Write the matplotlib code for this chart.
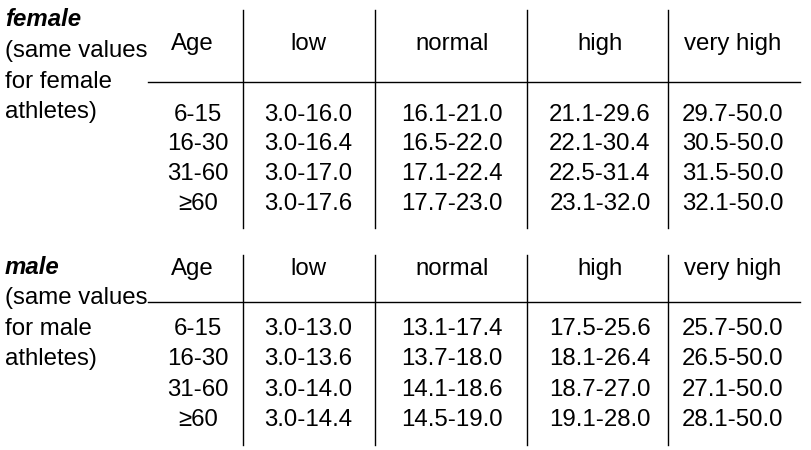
import matplotlib
matplotlib.use("Agg")
import matplotlib.pyplot as plt

headers = ["Age", "low", "normal", "high", "very high"]
ages = ["6-15", "16-30", "31-60", "≥60"]
female_low = ["3.0-16.0", "3.0-16.4", "3.0-17.0", "3.0-17.6"]
female_normal = ["16.1-21.0", "16.5-22.0", "17.1-22.4", "17.7-23.0"]
female_high = ["21.1-29.6", "22.1-30.4", "22.5-31.4", "23.1-32.0"]
female_vhigh = ["29.7-50.0", "30.5-50.0", "31.5-50.0", "32.1-50.0"]
male_low = ["3.0-13.0", "3.0-13.6", "3.0-14.0", "3.0-14.4"]
male_normal = ["13.1-17.4", "13.7-18.0", "14.1-18.6", "14.5-19.0"]
male_high = ["17.5-25.6", "18.1-26.4", "18.7-27.0", "19.1-28.0"]
male_vhigh = ["25.7-50.0", "26.5-50.0", "27.1-50.0", "28.1-50.0"]

plt.rcParams['font.family'] = ['Liberation Sans', 'DejaVu Sans']
fig = plt.figure(figsize=(8.12, 4.5), dpi=100)
ax = fig.add_axes([0, 0, 1, 1])
ax.set_xlim(0, 812); ax.set_ylim(450, 0); ax.axis('off')

colx = [198, 308, 452, 600, 733]
vlines = [243, 375, 527, 668]
fs = 17.3

def section(top, bottom, hy, liney, rowys, label, labely, side, cols):
    for x in vlines:
        ax.plot([x, x], [top, bottom], color='black', lw=1)
    ax.plot([148, 800], [liney, liney], color='black', lw=1)
    for x, h in zip(colx, headers):
        ax.text(x - (6 if h == "Age" else 0), hy, h, ha='center', va='center', fontsize=fs)
    ax.text(5, labely, label, fontsize=fs, fontweight='bold', fontstyle='italic', va='center')
    for y, s in side:
        ax.text(5, y, s, fontsize=fs, va='center')
    for i, y in enumerate(rowys):
        ax.text(colx[0], y, ages[i], ha='center', va='center', fontsize=fs)
        for x, c in zip(colx[1:], cols):
            ax.text(x, y, c[i], ha='center', va='center', fontsize=fs)

section(10, 228, 44, 82, [115, 144, 174, 204], "female", 20,
        [(51, "(same values"), (82, "for female"), (112, "athletes)")],
        [female_low, female_normal, female_high, female_vhigh])
section(255, 445, 269, 302, [329, 359, 390, 420], "male", 268,
        [(298, "(same values"), (329, "for male"), (359, "athletes)")],
        [male_low, male_normal, male_high, male_vhigh])

fig.savefig("out.png", dpi=100, facecolor='white')
